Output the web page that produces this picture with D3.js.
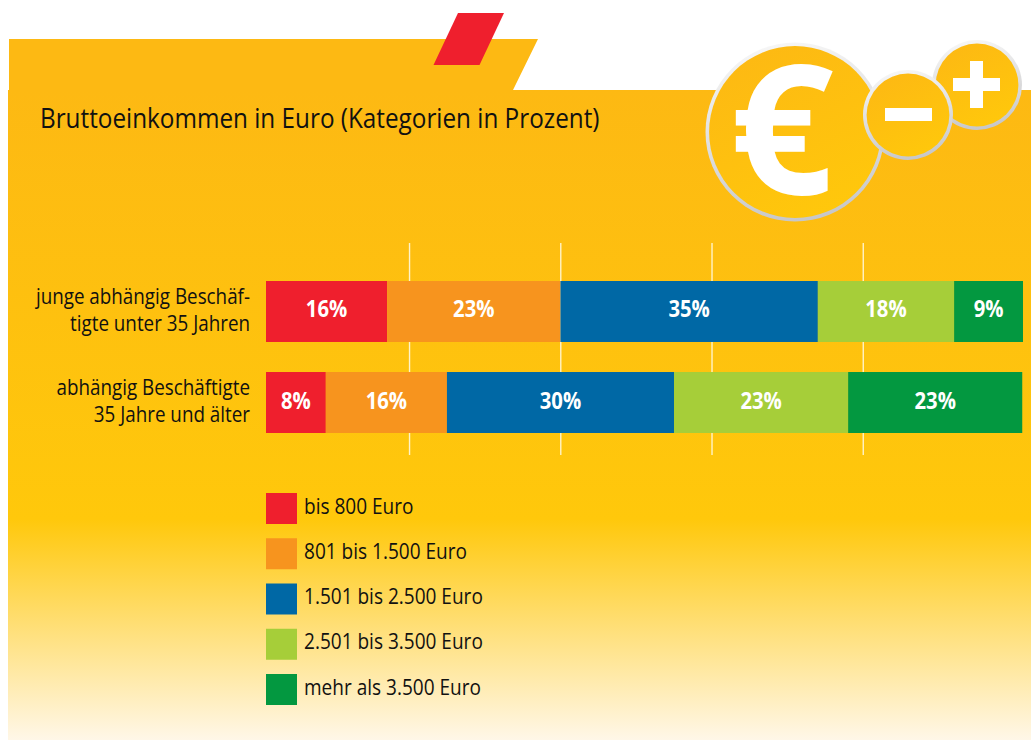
<!DOCTYPE html>
<html><head><meta charset="utf-8">
<script src="https://cdn.jsdelivr.net/npm/d3@7"></script>
<style>html,body{margin:0;padding:0;background:#fff}svg{display:block}text{font-family:"Open Sans",sans-serif}</style>
</head><body><svg id="c" width="1031" height="740"></svg>
<script>
const title = "Bruttoeinkommen in Euro (Kategorien in Prozent)";
const categories = ["bis 800 Euro","801 bis 1.500 Euro","1.501 bis 2.500 Euro","2.501 bis 3.500 Euro","mehr als 3.500 Euro"];
const colors = ["#ef1f2d","#f7941e","#0068a5","#a6ce39","#039840"];
const rowKeys = ["jung","aelter"];
const rowLabels = [["junge abhängig Beschäf-","tigte unter 35 Jahren"],["abhängig Beschäftigte","35 Jahre und älter"]];
const youngValues = [16,22.9,34,18,9.1];
const olderValues = [7.9,16,30,23,23];
const youngLabels = ["16%","23%","35%","18%","9%"];
const olderLabels = ["8%","16%","30%","23%","23%"];
const gridTicks = [20,40,60,80];

const svg = d3.select("#c"), defs = svg.append("defs");
const K = 0.88;
function narrow(sel,k=K){sel.each(function(){this.setAttribute("textLength",this.getComputedTextLength()*k);this.setAttribute("lengthAdjust","spacingAndGlyphs");});return sel;}

const bg = defs.append("linearGradient").attr("id","bg").attr("x1",0).attr("x2",0).attr("y1",0).attr("y2",1);
[[0,"#fdb913"],[0.66,"#ffc80b"],[1,"#fff7e8"]].forEach(s=>bg.append("stop").attr("offset",s[0]).attr("stop-color",s[1]));
const coin = defs.append("linearGradient").attr("id","coin").attr("x1",0.25).attr("y1",0).attr("x2",0.75).attr("y2",1);
[[0,"#fdb913"],[1,"#ffc80b"]].forEach(s=>coin.append("stop").attr("offset",s[0]).attr("stop-color",s[1]));
const ring = defs.append("linearGradient").attr("id","ring").attr("x1",0.4).attr("y1",0).attr("x2",0.6).attr("y2",1);
[[0,"#f6f6f6"],[1,"#c6c6c8"]].forEach(s=>ring.append("stop").attr("offset",s[0]).attr("stop-color",s[1]));

svg.append("path").attr("d","M9,39H538L513,90H1031V108H8V90H9Z").attr("fill","#fdb913");
svg.append("rect").attr("x",8).attr("y",90).attr("width",1023).attr("height",650).attr("fill","url(#bg)");
svg.append("path").attr("d","M458,13H504L479.5,65H433.5Z").attr("fill","#ef1f2d");

svg.append("text").attr("x",40).attr("y",128).attr("font-size",27.5).attr("fill","#111").text(title).call(narrow,0.883);

function drawCoin(cx,cy,r){
  svg.append("circle").attr("cx",cx).attr("cy",cy).attr("r",r).attr("fill","url(#ring)");
  svg.append("circle").attr("cx",cx).attr("cy",cy).attr("r",r-3.6).attr("fill","url(#coin)");
}
drawCoin(795,132,89.5);
svg.append("text").attr("x",782).attr("y",194).attr("text-anchor","middle").attr("font-size",182).attr("font-weight",700).attr("fill","#fff").text("€");
drawCoin(977,85,45);
svg.append("rect").attr("x",953).attr("y",78).attr("width",47).attr("height",13).attr("fill","#fff");
svg.append("rect").attr("x",970).attr("y",61).attr("width",13).attr("height",47).attr("fill","#fff");
drawCoin(908,115,45);
svg.append("rect").attr("x",885).attr("y",108).attr("width",47).attr("height",13).attr("fill","#fff");

const x = d3.scaleLinear().domain([0,100]).range([266,1023]);
const gridX = d3.scaleLinear().domain([0,100]).range([258.3,1014.5]);
const y = d3.scaleBand().domain(rowKeys).range([281,433]).paddingInner(0.33);

svg.append("g").selectAll("line").data(gridTicks).join("line")
  .attr("x1",d=>gridX(d)).attr("x2",d=>gridX(d)).attr("y1",243).attr("y2",455)
  .attr("stroke","#fff3c8").attr("stroke-width",1.4);

const tableRows = rowKeys.map((k,i)=>{
  const vals = i===0?youngValues:olderValues;
  const o={row:k}; categories.forEach((c,j)=>o[c]=vals[j]); return o;
});
const stacked = d3.stack().keys(categories)(tableRows);
const labelsByRow = [youngLabels,olderLabels];
stacked.forEach((layer,j)=>{
  const g = svg.append("g");
  g.selectAll("rect").data(layer).join("rect")
    .attr("x",d=>x(d[0])).attr("width",d=>x(d[1])-x(d[0]))
    .attr("y",d=>y(d.data.row)).attr("height",y.bandwidth()).attr("fill",colors[j]);
  g.selectAll("text").data(layer).join("text")
    .attr("x",d=>(x(d[0])+x(d[1]))/2).attr("y",d=>y(d.data.row)+y.bandwidth()/2+6)
    .attr("text-anchor","middle").attr("font-size",22.5).attr("font-weight",700).attr("fill","#fff")
    .text((d,i)=>labelsByRow[i][j]).call(narrow,0.9);
});

rowLabels.forEach((lines,i)=>{
  const t = svg.append("g");
  t.selectAll("text").data(lines).join("text")
    .attr("x",250).attr("y",(d,n)=>y(rowKeys[i])+23+n*26.5)
    .attr("text-anchor","end").attr("font-size",21.5).attr("fill","#111").text(d=>d).call(narrow,0.875);
});

const ly = d3.scalePoint().domain(categories).range([493,674]);
svg.append("g").selectAll("rect").data(categories).join("rect")
  .attr("x",266).attr("y",d=>ly(d)).attr("width",31).attr("height",31).attr("fill",(d,i)=>colors[i]);
svg.append("g").selectAll("text").data(categories).join("text")
  .attr("x",304).attr("y",d=>ly(d)+20.5).attr("font-size",21.5).attr("fill","#111").text(d=>d).call(narrow,0.885);
</script></body></html>
